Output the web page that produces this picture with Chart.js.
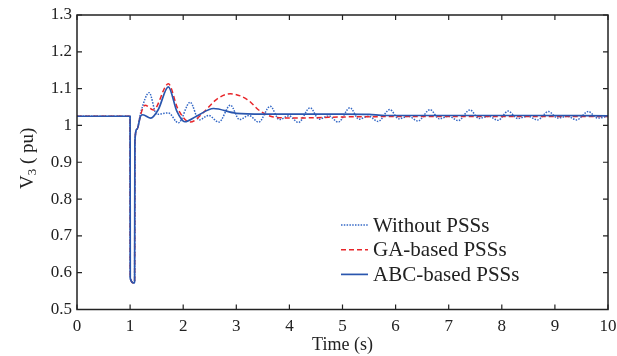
<!DOCTYPE html>
<html>
<head>
<meta charset="utf-8">
<script src="https://cdn.jsdelivr.net/npm/chart.js@4.4.1/dist/chart.umd.min.js"></script>
<style>
  html, body { margin: 0; padding: 0; background: #fff; }
</style>
</head>
<body>
<canvas id="myChart" width="617" height="356"></canvas>
<script>
// bus voltage after the fault at t = 1 s
var seriesNames = ['Without PSSs', 'GA-based PSSs', 'ABC-based PSSs'];

var timeNoPss = [0, 1.0, 1.003, 1.07, 1.085, 1.09, 1.13, 1.2, 1.36, 1.5, 1.72, 1.91, 2.13, 2.3, 2.48, 2.67,
    2.89, 3.06, 3.24, 3.42, 3.64, 3.81, 3.99, 4.17, 4.39, 4.56, 4.74, 4.92, 5.14, 5.31, 5.49, 5.67,
    5.89, 6.06, 6.24, 6.42, 6.65, 6.82, 7.0, 7.18, 7.4, 7.57, 7.75, 7.93, 8.12, 8.3, 8.49, 8.67,
    8.88, 9.05, 9.23, 9.41, 9.63, 9.8, 10];
var vNoPss = [1.025, 1.025, 0.585, 0.572, 0.575, 0.955, 0.99, 1.035, 1.089, 1.030, 1.034, 1.007, 1.063, 1.015, 1.027, 1.009,
    1.055, 1.016, 1.027, 1.009, 1.052, 1.016, 1.026, 1.008, 1.048, 1.017, 1.026, 1.009, 1.048, 1.017, 1.025, 1.011,
    1.043, 1.018, 1.025, 1.012, 1.043, 1.018, 1.025, 1.013, 1.042, 1.019, 1.025, 1.014, 1.039, 1.019, 1.025, 1.015,
    1.038, 1.020, 1.025, 1.015, 1.038, 1.020, 1.025];

var timeGa = [0, 1.0, 1.003, 1.07, 1.085, 1.09, 1.13, 1.2, 1.28, 1.44, 1.72, 1.9, 2.13, 2.38, 2.63, 2.89,
    3.2, 3.45, 3.7, 4.07, 4.5, 5, 6, 7, 8, 9, 10];
var vGa = [1.025, 1.025, 0.585, 0.572, 0.575, 0.955, 0.99, 1.03, 1.055, 1.042, 1.113, 1.045, 1.009, 1.035, 1.071, 1.086,
    1.071, 1.039, 1.023, 1.020, 1.021, 1.023, 1.024, 1.024, 1.024, 1.024, 1.024];

var timeAbc = [0, 1.0, 1.003, 1.07, 1.085, 1.09, 1.13, 1.2, 1.24, 1.39, 1.53, 1.72, 1.88, 2.03, 2.25, 2.57,
    3.0, 3.5, 4, 5, 5.5, 5.8, 7, 8.5, 10];
var vAbc = [1.025, 1.025, 0.585, 0.572, 0.575, 0.955, 0.99, 1.026, 1.029, 1.020, 1.043, 1.105, 1.039, 1.010, 1.025, 1.046,
    1.033, 1.031, 1.031, 1.031, 1.030, 1.027, 1.027, 1.027, 1.026];

var xTicks = [0, 1, 2, 3, 4, 5, 6, 7, 8, 9, 10];
var yTicks = [0.5, 0.6, 0.7, 0.8, 0.9, 1.0, 1.1, 1.2, 1.3];

var serif = "'Liberation Serif', 'DejaVu Serif', serif";

function toPoints(ts, vs) {
    return ts.map(function (t, i) { return {x: t, y: vs[i]}; });
}

var lineStyles = [
    {color: '#3468c6', width: 1.5, dash: [1.5, 1.3]},
    {color: '#e8262a', width: 1.5, dash: [5, 3]},
    {color: '#2a56ae', width: 1.7, dash: []}
];

// box, inward ticks, legend and y title like the matlab figure
var framePlugin = {
    id: 'frame',
    afterDatasetsDraw: function (chart) {
        var ctx = chart.ctx, a = chart.chartArea;
        var xs = chart.scales.x, ys = chart.scales.y;
        ctx.save();
        ctx.strokeStyle = '#222';
        ctx.lineWidth = 1.5;
        ctx.strokeRect(a.left, a.top, a.right - a.left, a.bottom - a.top);
        ctx.lineWidth = 1.2;
        ctx.beginPath();
        xTicks.forEach(function (t) {
            var px = xs.getPixelForValue(t);
            ctx.moveTo(px, a.bottom); ctx.lineTo(px, a.bottom - 5);
            ctx.moveTo(px, a.top); ctx.lineTo(px, a.top + 5);
        });
        yTicks.forEach(function (v) {
            var py = ys.getPixelForValue(v);
            ctx.moveTo(a.left, py); ctx.lineTo(a.left + 5, py);
            ctx.moveTo(a.right, py); ctx.lineTo(a.right - 5, py);
        });
        ctx.stroke();

        // legend
        var lx = a.right - 267, ly = a.top + 210;
        ctx.font = '21px ' + serif;
        ctx.textBaseline = 'middle';
        ctx.fillStyle = '#222';
        seriesNames.forEach(function (name, i) {
            var st = lineStyles[i], y = ly + i * 24.7;
            ctx.strokeStyle = st.color;
            ctx.lineWidth = st.width;
            ctx.setLineDash(st.dash);
            ctx.beginPath();
            ctx.moveTo(lx, y); ctx.lineTo(lx + 27, y);
            ctx.stroke();
            ctx.setLineDash([]);
            ctx.fillText(name, lx + 32, y + 1);
        });

        // y title with subscript
        ctx.translate(28, (a.top + a.bottom) / 2 - 4);
        ctx.rotate(-Math.PI / 2);
        ctx.textBaseline = 'middle';
        var big = '19px ' + serif, small = '13px ' + serif;
        ctx.font = big;
        var w1 = ctx.measureText('V').width, w3 = ctx.measureText(' ( pu)').width;
        ctx.font = small;
        var w2 = ctx.measureText('3').width;
        var x0 = -(w1 + w2 + w3) / 2;
        ctx.font = big;
        ctx.fillText('V', x0, 0);
        ctx.font = small;
        ctx.fillText('3', x0 + w1, 5);
        ctx.font = big;
        ctx.fillText(' ( pu)', x0 + w1 + w2, 0);
        ctx.restore();
    }
};

var ctx = document.getElementById('myChart');

var myChart = new Chart(ctx, {
    type: 'line',
    data: {
        datasets: [
            {label: seriesNames[0], data: toPoints(timeNoPss, vNoPss), order: 2},
            {label: seriesNames[1], data: toPoints(timeGa, vGa), order: 1},
            {label: seriesNames[2], data: toPoints(timeAbc, vAbc), order: 0}
        ].map(function (ds, i) {
            ds.borderColor = lineStyles[i].color;
            ds.borderWidth = lineStyles[i].width;
            ds.borderDash = lineStyles[i].dash;
            ds.pointRadius = 0;
            ds.fill = false;
            ds.cubicInterpolationMode = 'monotone';
            return ds;
        })
    },
    options: {
        responsive: false,
        animation: false,
        devicePixelRatio: 1,
        layout: {padding: {left: 0, right: 9, top: 15, bottom: 0}},
        plugins: {legend: {display: false}, tooltip: {enabled: false}},
        scales: {
            x: {
                type: 'linear', min: 0, max: 10,
                grid: {display: false, drawTicks: false},
                border: {display: false},
                afterBuildTicks: function (s) { s.ticks = xTicks.map(function (v) { return {value: v}; }); },
                afterFit: function (s) { s.height = 46.5; s.paddingLeft = 0; s.paddingRight = 0; },
                ticks: {
                    color: '#222', padding: 7, maxRotation: 0,
                    font: {family: serif, size: 17},
                    callback: function (v) { return String(v); }
                },
                title: {
                    display: true, text: 'Time (s)', color: '#222',
                    font: {family: serif, size: 18}, padding: {top: 0, bottom: 0}
                }
            },
            y: {
                min: 0.5, max: 1.3,
                grid: {display: false, drawTicks: false},
                border: {display: false},
                afterBuildTicks: function (s) { s.ticks = yTicks.map(function (v) { return {value: v}; }); },
                afterFit: function (s) { s.width = 77; s.paddingTop = 0; s.paddingBottom = 0; },
                ticks: {
                    color: '#222', padding: 5,
                    font: {family: serif, size: 17},
                    callback: function (v) { return String(Number(v.toFixed(1))); }
                }
            }
        }
    },
    plugins: [framePlugin]
});
</script>
</body>
</html>
